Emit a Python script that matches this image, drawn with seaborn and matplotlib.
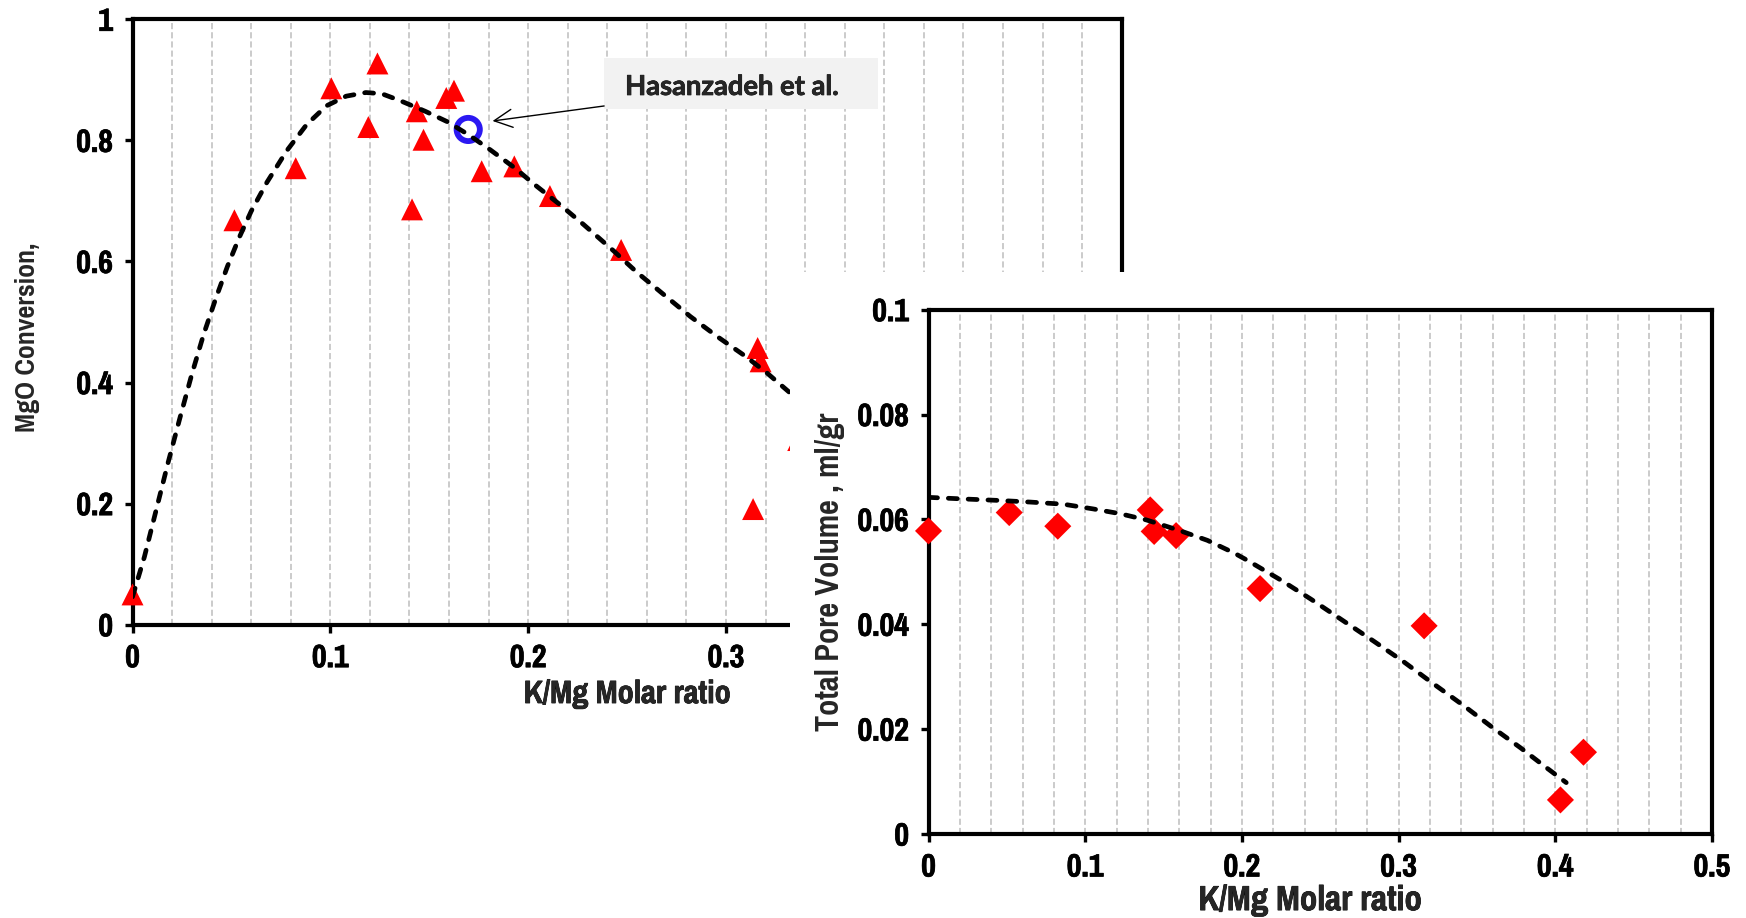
import matplotlib
matplotlib.use("Agg")
import matplotlib.pyplot as plt
from matplotlib import font_manager as fm
from matplotlib import patheffects as pe
from matplotlib.textpath import TextPath
from matplotlib.patches import Rectangle
from matplotlib.ticker import MultipleLocator, FuncFormatter
import seaborn as sns

# ---------------- MgO conversion vs K/Mg molar ratio ----------------
conv_ratio = [0.000, 0.0515, 0.0825, 0.1005, 0.1192, 0.1238, 0.1437, 0.1471,
              0.1413, 0.1586, 0.1625, 0.1765, 0.1930, 0.2110, 0.2470, 0.3160,
              0.3175, 0.3137, 0.3365]
conv_value = [0.050, 0.668, 0.754, 0.886, 0.822, 0.927, 0.848, 0.801,
              0.686, 0.870, 0.882, 0.749, 0.757, 0.708, 0.619, 0.457,
              0.435, 0.191, 0.305]

ref_ratio = [0.1697]
ref_value = [0.818]
ref_label = "Hasanzadeh et al."

conv_fit_x = [0.000, 0.006, 0.012, 0.018, 0.024, 0.030, 0.036, 0.042, 0.048,
              0.054, 0.060, 0.068, 0.078, 0.088, 0.098, 0.108, 0.118, 0.126,
              0.135, 0.148, 0.159, 0.170, 0.181, 0.193, 0.204, 0.216, 0.228,
              0.243, 0.255, 0.269, 0.282, 0.296, 0.310, 0.321, 0.332]
conv_fit_y = [0.046, 0.112, 0.190, 0.268, 0.342, 0.414, 0.480, 0.538, 0.592,
              0.640, 0.683, 0.731, 0.783, 0.826, 0.857, 0.873, 0.879, 0.877,
              0.866, 0.848, 0.831, 0.809, 0.784, 0.755, 0.725, 0.694, 0.661,
              0.618, 0.582, 0.544, 0.509, 0.475, 0.443, 0.415, 0.384]

# ---------------- Total pore volume vs K/Mg molar ratio ----------------
pore_ratio = [0.000, 0.0515, 0.0825, 0.1415, 0.1440, 0.1580, 0.2116, 0.3163,
              0.4033, 0.4180]
pore_volume = [0.0578, 0.0613, 0.0587, 0.0618, 0.0577, 0.0569, 0.0468, 0.0397,
               0.0065, 0.0156]

pore_fit_x = [0.000, 0.022, 0.046, 0.065, 0.086, 0.105, 0.122, 0.139, 0.160,
              0.178, 0.195, 0.204, 0.225, 0.244, 0.263, 0.284, 0.303, 0.322,
              0.341, 0.360, 0.378, 0.395, 0.407]
pore_fit_y = [0.0642, 0.0639, 0.0636, 0.0633, 0.0629, 0.0620, 0.0611, 0.0599,
              0.0579, 0.0560, 0.0536, 0.0521, 0.0484, 0.0448, 0.0410, 0.0368,
              0.0329, 0.0287, 0.0246, 0.0203, 0.0164, 0.0125, 0.0098]

x_label = "K/Mg Molar ratio"
conv_ylabel = "MgO Conversion,"
pore_ylabel = "Total Pore Volume , ml/gr"

sns.set_style("white")
plt.rcParams["font.family"] = ["Liberation Sans", "DejaVu Sans"]
plt.rcParams["font.weight"] = "bold"


# ---- font selection: a bold narrow sans, sized to Arial-bold text widths ----
def _ink_width(fname, s):
    prop = fm.FontProperties(fname=fname)
    return TextPath((0, 0), s, size=100, prop=prop).get_extents().width


def _narrowness(fname):
    prop = fm.FontProperties(fname=fname)
    cap = TextPath((0, 0), "H", size=100, prop=prop).get_extents().height
    return _ink_width(fname, x_label) / cap


def _weight(e):
    w = e.weight
    if isinstance(w, str):
        w = fm.weight_dict.get(w, 400)
    return w


BASE_FILE = fm.findfont(fm.FontProperties(family="Liberation Sans", weight="bold"))
base_n = _narrowness(BASE_FILE)
target_n = 0.82 * base_n

ALLOWED = {"Liberation Sans Narrow", "Arial Narrow", "Roboto Condensed",
           "Open Sans Condensed", "Noto Sans", "Open Sans", "Roboto",
           "Liberation Sans", "Noto Sans Display", "Inter"}
best_file, best_err = BASE_FILE, abs(base_n - target_n)
for e in fm.fontManager.ttflist:
    if e.style != "normal" or not (650 <= _weight(e) <= 750):
        continue
    if e.name not in ALLOWED and "Condensed" not in e.name and "Narrow" not in e.name:
        continue
    try:
        n = _narrowness(e.fname)
    except Exception:
        continue
    if abs(n - target_n) < best_err:
        best_file, best_err = e.fname, abs(n - target_n)
NARROW_FILE = best_file


def narrow(arial_size, sample):
    """Narrow face sized so `sample` is as wide as Arial bold at arial_size."""
    size = arial_size * _ink_width(BASE_FILE, sample) / _ink_width(NARROW_FILE, sample)
    return fm.FontProperties(fname=NARROW_FILE, size=size)


# thin outline to give the narrow face a slightly heavier stroke
HEAVY = [pe.withStroke(linewidth=0.5, foreground="black")]

RED = "#ff0000"
BLUE = "#2b18f2"
GRID = "#bdbdbd"
FIT_STYLE = dict(color="black", linewidth=3.4, linestyle=(0, (1.9, 2.3)),
                 dash_capstyle="round", zorder=6)

fmt = FuncFormatter(lambda v, p: f"{round(v, 3):g}")
TICK_PROP = narrow(19, "0.06")


def style_axes(ax, xmax, ymax, ystep):
    ax.set_xlim(0, xmax)
    ax.set_ylim(0, ymax)
    ax.xaxis.set_major_locator(MultipleLocator(0.1))
    ax.xaxis.set_minor_locator(MultipleLocator(0.02))
    ax.yaxis.set_major_locator(MultipleLocator(ystep))
    ax.xaxis.set_major_formatter(fmt)
    ax.yaxis.set_major_formatter(fmt)
    ax.set_axisbelow(True)
    ax.grid(False)
    ax.grid(True, which="both", axis="x", color=GRID, linewidth=1.1,
            linestyle=(0, (4, 2)))
    for s in ax.spines.values():
        s.set_visible(True)
        s.set_color("black")
        s.set_linewidth(3)
    ax.tick_params(which="major", direction="out", length=6, width=2.4,
                   bottom=True, left=True, top=False, right=False,
                   pad=8, colors="black")
    ax.tick_params(which="minor", length=0)
    for lab in ax.get_xticklabels() + ax.get_yticklabels():
        lab.set_fontproperties(TICK_PROP)
        lab.set_path_effects(HEAVY)


def set_labels(ax, xtext, xprop, xpos, ytext, yprop, ypos):
    ax.set_xlabel(xtext, fontproperties=xprop)
    ax.set_ylabel(ytext, fontproperties=yprop)
    ax.xaxis.label.set_path_effects(HEAVY)
    for lab in (ax.xaxis.label, ax.yaxis.label):
        lab.set_va("center")
    ax.xaxis.set_label_coords(*xpos)
    ax.yaxis.set_label_coords(*ypos)


fig = plt.figure(figsize=(17.46, 9.18), dpi=100)

# ---- left panel ----
ax1 = fig.add_axes([0.0759, 0.3195, 0.5665, 0.6595])
sns.scatterplot(x=conv_ratio, y=conv_value, marker="^", s=250, color=RED,
                edgecolor="none", linewidth=0, ax=ax1, zorder=4, clip_on=False)
sns.scatterplot(x=ref_ratio, y=ref_value, marker="o", s=280, facecolor="none",
                edgecolor=BLUE, linewidth=4.2, ax=ax1, zorder=5)
sns.lineplot(x=conv_fit_x, y=conv_fit_y, sort=False, estimator=None, ax=ax1,
             **FIT_STYLE)
style_axes(ax1, 0.5, 1.0, 0.2)
set_labels(ax1, x_label, narrow(19, x_label), (0.5, -0.1145),
           conv_ylabel, narrow(16.5, conv_ylabel), (-0.1058, 0.474))

# citation box with arrow pointing at the reference point
ax1.add_patch(Rectangle((0.2384, 0.8514), 0.1384, 0.0842, facecolor="#f2f2f2",
                        edgecolor="none", zorder=3))
ax1.text(0.249, 0.875, ref_label, fontsize=19.7, fontweight="bold",
         family=["Lato", "DejaVu Sans"], va="baseline", ha="left", zorder=4,
         path_effects=[pe.withStroke(linewidth=0.5, foreground="black")])
ax1.annotate("", xy=(0.182, 0.832), xytext=(0.2384, 0.8568),
             arrowprops=dict(arrowstyle="->,head_length=1.3,head_width=0.65",
                             mutation_scale=10, lw=1.0, color="black",
                             shrinkA=0, shrinkB=0), zorder=4)

# white backing of the second panel, lying over the first one
fig.add_artist(Rectangle((0.4525, 0.0), 0.6, 0.7037, transform=fig.transFigure,
                         facecolor="white", edgecolor="none", zorder=5))

# ---- right panel ----
ax2 = fig.add_axes([0.5318, 0.0915, 0.4487, 0.5712])
ax2.set_zorder(10)
ax2.set_facecolor("white")
sns.scatterplot(x=pore_ratio, y=pore_volume, marker="D", s=190, color=RED,
                edgecolor="none", linewidth=0, ax=ax2, zorder=4, clip_on=False)
sns.lineplot(x=pore_fit_x, y=pore_fit_y, sort=False, estimator=None, ax=ax2,
             **FIT_STYLE)
style_axes(ax2, 0.5, 0.1, 0.02)
set_labels(ax2, x_label, narrow(20.5, x_label), (0.487, -0.126),
           pore_ylabel, narrow(19.3, pore_ylabel), (-0.126, 0.5))

fig.savefig("out.png", dpi=100)
